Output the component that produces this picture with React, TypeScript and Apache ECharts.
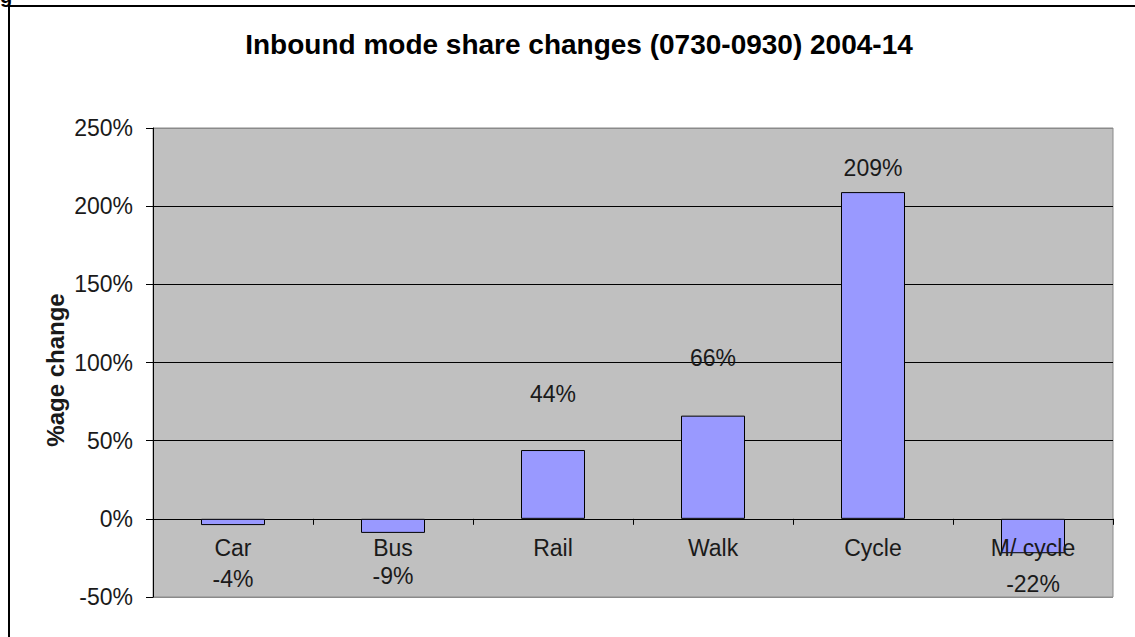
import React, { useEffect, useRef } from "react";
import * as echarts from "echarts";

const categories = ["Car", "Bus", "Rail", "Walk", "Cycle", "M/ cycle"];
const changes = [-4, -9, 44, 66, 209, -22];
const yTicks = { min: -50, max: 250, interval: 50 };
const titleText = "Inbound mode share changes (0730-0930) 2004-14";
const yName = "%age change";
// label distances from bar ends (layout only)
const labelDistances = [42, 32, 45, 46, 13, 19];

const FONT = "'Liberation Sans', Arial, sans-serif";
const TXT = "#1a1a1a";
const FS = 23;

export default function App() {
  const ref = useRef<HTMLDivElement>(null);
  useEffect(() => {
    const chart = echarts.init(ref.current!, null, { renderer: "svg" });
    chart.setOption({
      animation: false,
      backgroundColor: "#ffffff",
      textStyle: { fontFamily: FONT },
      grid: {
        left: 153,
        right: 22,
        top: 128,
        bottom: 40,
        show: true,
        backgroundColor: "#C0C0C0",
        borderColor: "#8a8a8a",
        borderWidth: 1,
      },
      xAxis: [
        {
          type: "category",
          data: categories,
          axisLine: { onZero: true, lineStyle: { color: "#000", width: 1 } },
          axisTick: { show: true, length: 6, lineStyle: { color: "#000" } },
          axisLabel: { show: false },
          splitLine: { show: false },
        },
        {
          type: "category",
          data: categories,
          position: "bottom",
          offset: -79,
          z: 10,
          axisLine: { show: false },
          axisTick: { show: false },
          axisLabel: { color: TXT, fontSize: FS, fontFamily: FONT, margin: 18 },
          splitLine: { show: false },
        },
      ],
      yAxis: {
        type: "value",
        min: yTicks.min,
        max: yTicks.max,
        interval: yTicks.interval,
        axisLine: { show: true, lineStyle: { color: "#000", width: 1 } },
        axisTick: { show: true, length: 7, lineStyle: { color: "#000" } },
        axisLabel: {
          color: TXT,
          fontSize: FS,
          fontFamily: FONT,
          margin: 20,
          formatter: (v: number) => `${v}%`,
        },
        splitLine: {
          show: true,
          lineStyle: {
            color: ["#8a8a8a", "#000", "#000", "#000", "#000", "#000", "#8a8a8a"],
            width: 1,
          },
        },
      },
      series: [
        {
          type: "bar",
          xAxisIndex: 0,
          barWidth: "40%",
          z: 2,
          data: changes.map((v, i) => ({
            value: v,
            label: {
              show: true,
              position: v >= 0 ? "top" : "bottom",
              distance: labelDistances[i],
              formatter: `${v}%`,
              color: TXT,
              fontSize: FS,
              fontFamily: FONT,
            },
          })),
          itemStyle: { color: "#9999FF", borderColor: "#000", borderWidth: 1 },
        },
      ],
      graphic: [
        {
          type: "rect",
          shape: { x: 9, y: 6, width: 1140, height: 640 },
          style: { fill: "none", stroke: "#000", lineWidth: 2 },
          silent: true,
        },
        {
          type: "text",
          x: 0,
          y: -14,
          style: { text: "g", font: `bold 20px ${FONT}`, fill: "#000" },
          silent: true,
        },
        {
          type: "text",
          x: 579,
          y: 44,
          style: {
            text: titleText,
            font: `bold 28px ${FONT}`,
            fill: "#000",
            textAlign: "center",
            textVerticalAlign: "middle",
          },
          silent: true,
        },
        {
          type: "text",
          x: 55,
          y: 370,
          rotation: Math.PI / 2,
          style: {
            text: yName,
            font: `bold 24px ${FONT}`,
            fill: TXT,
            textAlign: "center",
            textVerticalAlign: "middle",
          },
          silent: true,
        },
      ],
    });
    return () => chart.dispose();
  }, []);
  return (
    <div
      ref={ref}
      style={{ position: "fixed", left: 0, top: 0, width: 1135, height: 637 }}
    />
  );
}
